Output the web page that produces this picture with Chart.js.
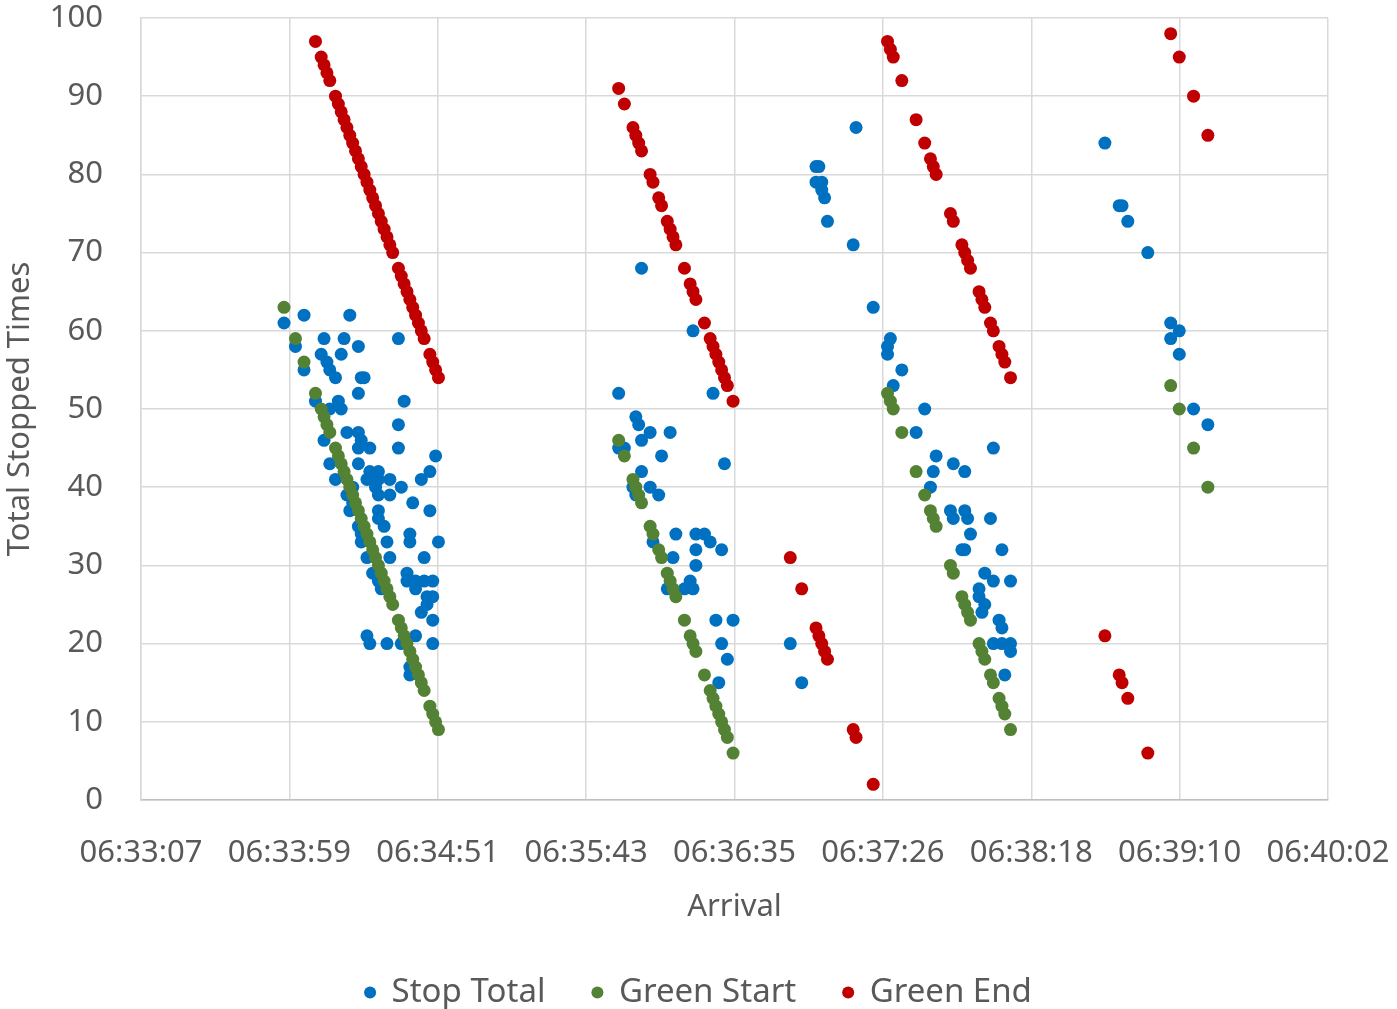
<!DOCTYPE html>
<html lang="en">
<head>
    <meta charset="UTF-8">
    <title>Total Stopped Times by Arrival</title>
    <script src="https://cdn.jsdelivr.net/npm/chart.js@4.4.1/dist/chart.umd.min.js"></script>
    <style>
        html, body { margin: 0; padding: 0; background: #ffffff; overflow: hidden; }
        #chart-container { position: relative; width: 1397px; height: 1009px; }
    </style>
</head>
<body>
<div class="chart-container" id="chart-container">
    <canvas id="myChart" width="1397" height="1009"></canvas>
</div>

<script>
    // x = seconds after 06:33:07, y = stopped times
    let tickLabels = ['06:33:07', '06:33:59', '06:34:51', '06:35:43', '06:36:35',
                      '06:37:26', '06:38:18', '06:39:10', '06:40:02'];

    let stopSec = [
        50,57,73,54,64,71,90,76,63,70,65,57,66,68,77,78,76,61,69,92,70,66,90,72,76,64,77,90,76,80,
        103,66,76,80,83,101,68,87,98,79,83,74,82,91,72,83,87,74,95,73,83,101,76,85,83,77,94,77,86,94,
        104,79,87,99,81,93,83,93,96,99,102,84,96,100,102,100,98,102,79,80,86,91,96,102,94,94,
        175,193,167,200,173,174,178,185,175,167,169,182,204,175,172,178,173,181,187,194,197,179,199,194,203,
        186,194,192,184,190,193,201,207,203,205,202,
        227,231,236,237,236,238,238,239,240,250,249,256,262,261,261,266,263,274,271,298,278,277,284,288,
        276,283,284,288,289,297,290,287,288,301,295,298,304,293,293,295,294,300,301,298,301,304,304,302,
        337,342,343,345,352,360,363,360,363,368,373
    ];
    let stopVal = [
        61,62,62,58,59,59,59,58,57,57,56,55,55,54,54,54,52,51,51,51,50,50,48,47,47,46,46,45,45,45,
        44,43,43,42,42,42,41,41,41,41,41,40,40,40,39,39,39,38,38,37,37,37,35,35,36,34,34,33,33,33,
        33,31,31,31,29,29,28,28,28,28,28,27,27,26,26,25,24,23,21,20,20,20,21,20,17,16,
        68,60,52,52,49,48,47,47,46,45,45,44,43,42,40,40,39,39,34,34,34,33,33,32,32,
        31,30,28,27,27,27,23,23,20,18,15,
        20,15,81,81,79,79,78,77,74,86,71,63,59,58,57,55,53,50,47,45,44,42,43,42,
        40,37,36,37,36,36,34,32,32,32,29,28,28,27,26,25,24,23,22,20,20,20,19,16,
        84,76,76,74,70,61,60,59,57,50,48
    ];

    let startSec = [
        50,54,57,61,63,64,65,66,68,69,70,71,72,73,74,75,76,77,78,79,80,81,82,83,84,85,86,87,88,
        90,91,92,93,94,95,96,97,98,99,101,102,103,104,
        167,169,172,173,174,175,178,179,181,182,184,185,186,187,190,192,193,194,197,199,200,201,202,203,204,205,207,
        261,262,263,266,271,274,276,277,278,283,284,287,288,289,290,293,294,295,297,298,300,301,302,304,
        360,363,368,373
    ];
    let startVal = [
        63,59,56,52,50,49,48,47,45,44,43,42,41,40,39,38,37,36,35,34,33,32,31,30,29,28,27,26,25,
        23,22,21,20,19,18,17,16,15,14,12,11,10,9,
        46,44,41,40,39,38,35,34,32,31,29,28,27,26,23,21,20,19,16,14,13,12,11,10,9,8,6,
        52,51,50,47,42,39,37,36,35,30,29,26,25,24,23,20,19,18,16,15,13,12,11,9,
        53,50,45,40
    ];

    let endSec = [
        61,63,64,65,66,68,69,70,71,72,73,74,75,76,77,78,79,80,81,82,83,84,85,86,87,88,
        90,91,92,93,94,95,96,97,98,99,101,102,103,104,
        167,169,172,173,174,175,178,179,181,182,184,185,186,187,190,192,193,194,197,199,200,201,202,203,204,205,207,
        227,231,236,237,238,239,240,249,250,256,
        261,262,263,266,271,274,276,277,278,283,284,287,288,289,290,293,294,295,297,298,300,301,302,304,
        337,342,343,345,352,
        360,363,368,373
    ];
    let endVal = [
        97,95,94,93,92,90,89,88,87,86,85,84,83,82,81,80,79,78,77,76,75,74,73,72,71,70,
        68,67,66,65,64,63,62,61,60,59,57,56,55,54,
        91,89,86,85,84,83,80,79,77,76,74,73,72,71,68,66,65,64,61,59,58,57,56,55,54,53,51,
        31,27,22,21,20,19,18,9,8,2,
        97,96,95,92,87,84,82,81,80,75,74,71,70,69,68,65,64,63,61,60,58,57,56,54,
        21,16,15,13,6,
        98,95,90,85
    ];

    let seriesNames = ['Stop Total', 'Green Start', 'Green End'];
    let seriesColors = ['#0070C0', '#548235', '#C00000'];

    let myChart;

    function toPoints(secs, vals) {
        return secs.map(function (s, i) { return {x: s, y: vals[i]}; });
    }

    // legend gets a fixed band at the bottom, spanning the whole canvas
    const legendBand = {
        id: 'legendBand',
        beforeInit: function (chart) {
            const origFit = chart.legend.fit;
            chart.legend.fit = function () {
                origFit.call(this);
                this.height = 80;
            };
        },
        afterLayout: function (chart) {
            chart.legend.left = 0;
            chart.legend.right = chart.width;
            chart.legend.width = chart.width;
        }
    };

    function buildConfig() {
        Chart.defaults.font.family = "'Noto Sans', 'Open Sans', sans-serif";
        Chart.defaults.font.size = 31;
        Chart.defaults.color = '#595959';

        let sets = [
            toPoints(stopSec, stopVal),
            toPoints(startSec, startVal),
            toPoints(endSec, endVal)
        ];

        return {
            type: 'scatter',
            data: {
                datasets: sets.map(function (pts, i) {
                    return {
                        label: seriesNames[i],
                        data: pts,
                        backgroundColor: seriesColors[i],
                        borderColor: seriesColors[i],
                        borderWidth: 0,
                        pointRadius: 6.5,
                        pointHoverRadius: 6.5,
                        order: 3 - i
                    };
                })
            },
            options: {
                responsive: false,
                animation: false,
                devicePixelRatio: 1,
                layout: {
                    padding: {left: 0, right: 69, top: 18, bottom: 0}
                },
                scales: {
                    x: {
                        type: 'linear',
                        min: 0,
                        max: 415,
                        afterFit: function (scale) {
                            scale.height = 129;
                            scale.paddingLeft = 0;   // keep the plot edges fixed
                            scale.paddingRight = 0;
                        },
                        grid: {color: '#D9D9D9', lineWidth: 1.5, drawTicks: false},
                        border: {color: '#BFBFBF', width: 1.5},
                        ticks: {
                            stepSize: 51.875,
                            padding: 35,
                            maxRotation: 0,
                            autoSkip: false,
                            callback: function (value, index) { return tickLabels[index]; }
                        },
                        title: {display: true, text: 'Arrival', padding: {top: 0, bottom: 3}}
                    },
                    y: {
                        min: 0,
                        max: 100,
                        afterFit: function (scale) {
                            scale.width = 141;
                            scale.paddingTop = 0;
                            scale.paddingBottom = 0;
                        },
                        grid: {color: '#D9D9D9', lineWidth: 1.5, drawTicks: false},
                        border: {color: '#D9D9D9', width: 1.5},
                        ticks: {stepSize: 10, padding: 38},
                        title: {display: true, text: 'Total Stopped Times', padding: {top: 2, bottom: 0}}
                    }
                },
                plugins: {
                    legend: {
                        position: 'bottom',
                        labels: {
                            usePointStyle: true,
                            pointStyle: 'circle',
                            boxWidth: 10,
                            boxHeight: 8.5,
                            padding: 47,
                            font: {size: 33},
                            sort: function (a, b) { return a.datasetIndex - b.datasetIndex; }
                        }
                    },
                    tooltip: {enabled: false}
                }
            },
            plugins: [legendBand]
        };
    }

    window.onload = function () {
        let ctx = document.getElementById('myChart');
        myChart = new Chart(ctx, buildConfig());
    };
</script>
</body>
</html>
